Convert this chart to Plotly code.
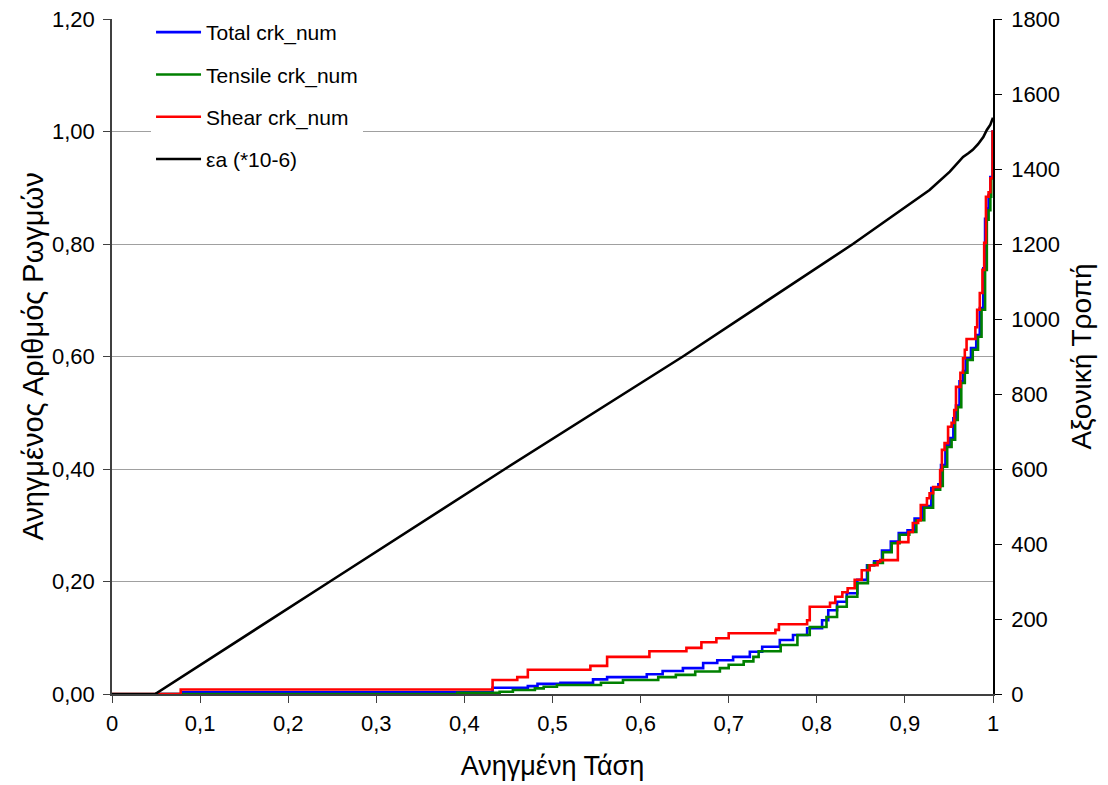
import plotly.graph_objects as go

# ---- data ----
shear_x = [0.0, 0.078, 0.432, 0.460, 0.472, 0.543, 0.562, 0.610, 0.652, 0.669, 0.686, 0.700,
           0.753, 0.757, 0.789, 0.792, 0.815, 0.821, 0.829, 0.835, 0.843, 0.851, 0.860, 0.869,
           0.872, 0.892, 0.904, 0.909, 0.915, 0.918, 0.925, 0.928, 0.932, 0.940, 0.942, 0.945,
           0.949, 0.953, 0.956, 0.958, 0.963, 0.966, 0.968, 0.970, 0.980, 0.982, 0.985, 0.988,
           0.990, 0.992, 0.995, 0.997, 0.9995, 1.0]
shear_y = [0.0, 0.008, 0.025, 0.030, 0.043, 0.050, 0.066, 0.076, 0.082, 0.092, 0.099, 0.108,
           0.114, 0.124, 0.131, 0.155, 0.162, 0.173, 0.181, 0.188, 0.203, 0.220, 0.229, 0.235,
           0.238, 0.270, 0.288, 0.304, 0.309, 0.336, 0.348, 0.357, 0.368, 0.398, 0.434, 0.446,
           0.475, 0.482, 0.505, 0.546, 0.571, 0.597, 0.612, 0.631, 0.652, 0.683, 0.713, 0.754,
           0.802, 0.884, 0.892, 0.917, 1.0, 1.0]

total_x = [0.049, 0.080, 0.432, 0.472, 0.483, 0.509, 0.546, 0.562, 0.607, 0.625, 0.648, 0.671,
           0.687, 0.705, 0.724, 0.738, 0.758, 0.773, 0.789, 0.806, 0.813, 0.823, 0.834, 0.846,
           0.857, 0.865, 0.874, 0.884, 0.893, 0.903, 0.911, 0.920, 0.930, 0.938, 0.941, 0.946,
           0.951, 0.955, 0.958, 0.962, 0.966, 0.969, 0.975, 0.981, 0.985, 0.989, 0.991, 0.993,
           0.995, 0.997, 0.9995, 1.0]
total_y = [0.0, 0.003, 0.011, 0.014, 0.018, 0.020, 0.026, 0.030, 0.035, 0.041, 0.046, 0.055,
           0.060, 0.066, 0.075, 0.084, 0.096, 0.105, 0.117, 0.131, 0.149, 0.164, 0.179, 0.203,
           0.229, 0.236, 0.255, 0.271, 0.286, 0.291, 0.312, 0.334, 0.366, 0.373, 0.407, 0.442,
           0.455, 0.490, 0.513, 0.556, 0.574, 0.597, 0.615, 0.638, 0.686, 0.757, 0.845, 0.863,
           0.887, 0.919, 1.0, 1.0]

tensile_x = [0.049, 0.392, 0.440, 0.455, 0.480, 0.490, 0.505, 0.555, 0.580, 0.620, 0.640, 0.662,
             0.690, 0.700, 0.717, 0.728, 0.734, 0.759, 0.778, 0.792, 0.811, 0.823, 0.834, 0.846,
             0.858, 0.865, 0.875, 0.885, 0.894, 0.905, 0.913, 0.922, 0.932, 0.940, 0.943, 0.948,
             0.953, 0.957, 0.960, 0.964, 0.968, 0.971, 0.977, 0.983, 0.987, 0.991, 0.993, 0.995,
             0.997, 0.998, 1.0]
tensile_y = [0.0, 0.002, 0.004, 0.007, 0.010, 0.013, 0.016, 0.020, 0.025, 0.030, 0.034, 0.040,
             0.046, 0.052, 0.058, 0.066, 0.076, 0.087, 0.105, 0.119, 0.137, 0.155, 0.173, 0.197,
             0.229, 0.233, 0.252, 0.268, 0.283, 0.288, 0.309, 0.331, 0.363, 0.370, 0.404, 0.439,
             0.452, 0.487, 0.510, 0.553, 0.571, 0.594, 0.612, 0.635, 0.683, 0.754, 0.843, 0.860,
             0.884, 0.917, 1.0]

strain_x = [0.0, 0.049, 0.2474, 0.446, 0.648, 0.841, 0.876, 0.914, 0.928, 0.951, 0.960, 0.966,
            0.972, 0.977, 0.983, 0.989, 0.993, 0.997, 1.0]
strain_y = [0, 0, 300, 600, 900, 1200, 1258, 1322, 1344, 1393, 1415, 1432, 1442, 1451, 1466,
            1485, 1504, 1518, 1537]

x_ticks = [0, 0.1, 0.2, 0.3, 0.4, 0.5, 0.6, 0.7, 0.8, 0.9, 1.0]
x_ticklabels = ["0", "0,1", "0,2", "0,3", "0,4", "0,5", "0,6", "0,7", "0,8", "0,9", "1"]
y_ticks = [0, 0.2, 0.4, 0.6, 0.8, 1.0, 1.2]
y_ticklabels = ["0,00", "0,20", "0,40", "0,60", "0,80", "1,00", "1,20"]
y2_ticks = [0, 200, 400, 600, 800, 1000, 1200, 1400, 1600, 1800]
y2_ticklabels = [str(v) for v in y2_ticks]

FONT = "Liberation Sans, Arial, sans-serif"
TICK_FS = 22
TITLE_FS = 27
LEG_FS = 21

fig = go.Figure()
fig.add_trace(go.Scatter(x=total_x, y=total_y, mode="lines", line=dict(color="#0000ff", width=2.6, shape="hv"),
                         name="Total crk_num", legendgroup="a"))
fig.add_trace(go.Scatter(x=tensile_x, y=tensile_y, mode="lines", line=dict(color="#008000", width=2.6, shape="hv"),
                         name="Tensile crk_num", legendgroup="b"))
fig.add_trace(go.Scatter(x=shear_x, y=shear_y, mode="lines", line=dict(color="#ff0000", width=2.6, shape="hv"),
                         name="Shear crk_num", legendgroup="c"))
fig.add_trace(go.Scatter(x=strain_x, y=strain_y, mode="lines", line=dict(color="#000000", width=2.6),
                         name="εa (*10-6)", legendgroup="d", yaxis="y2"))

fig.update_layout(
    width=1108, height=785,
    margin=dict(l=112, r=115, t=19, b=91, autoexpand=False),
    paper_bgcolor="white", plot_bgcolor="white",
    font=dict(family=FONT, size=TICK_FS, color="black"),
    showlegend=True,
    legend=dict(x=0.0443, y=1.0104, xanchor="left", yanchor="top", bgcolor="white",
                font=dict(size=LEG_FS, family=FONT), tracegroupgap=12, traceorder="grouped",
                itemwidth=45, borderwidth=0),
    xaxis=dict(range=[0, 1], tickvals=x_ticks, ticktext=x_ticklabels, showgrid=False, zeroline=False,
               showline=True, linecolor="#404040", linewidth=1.5, ticks="outside", ticklen=7,
               tickcolor="#404040", ticklabelstandoff=2, tickfont=dict(size=TICK_FS),
               title=dict(text="Ανηγμένη Τάση", standoff=21, font=dict(size=TITLE_FS))),
    yaxis=dict(range=[0, 1.2], tickvals=y_ticks, ticktext=y_ticklabels, showgrid=True,
               gridcolor="#a0a0a0", gridwidth=1, zeroline=False, showline=True, linecolor="#404040",
               linewidth=1.5, ticks="outside", ticklen=7, tickcolor="#404040", tickfont=dict(size=TICK_FS),
               ticklabelstandoff=4,
               title=dict(text="Ανηγμένος Αριθμός Ρωγμών", standoff=0, font=dict(size=29))),
    yaxis2=dict(range=[0, 1800], tickvals=y2_ticks, ticktext=y2_ticklabels, overlaying="y", side="right",
                showgrid=False, zeroline=False, showline=True, linecolor="black", linewidth=1.5,
                ticks="outside", ticklen=7, tickcolor="black", tickfont=dict(size=TICK_FS),
                ticklabelstandoff=5,
                title=dict(text="Αξονική Τροπή", standoff=12, font=dict(size=28))),
)

fig.write_html("out.html")
